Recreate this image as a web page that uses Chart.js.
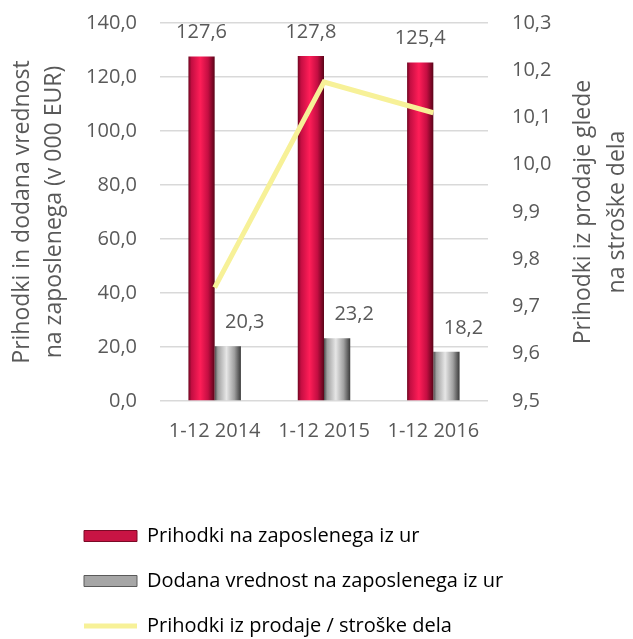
<!DOCTYPE html>
<html>
<head>
<meta charset="utf-8">
<script src="https://cdn.jsdelivr.net/npm/chart.js@4"></script>
<style>
  html, body { margin: 0; padding: 0; background: #fff; }
  #wrap { width: 633px; height: 639px; }
</style>
</head>
<body>
<div id="wrap"><canvas id="chart"></canvas></div>
<script>
const categories = ['1-12 2014', '1-12 2015', '1-12 2016'];
const prihodki = [127.6, 127.8, 125.4];
const dodana = [20.3, 23.2, 18.2];
const razmerje = [9.74, 10.175, 10.11];
const leftTitle = ['Prihodki in dodana vrednost', 'na zaposlenega (v 000 EUR)'];
const rightTitle = ['Prihodki iz prodaje glede', 'na stroške dela'];
const legendNames = ['Prihodki na zaposlenega iz ur', 'Dodana vrednost na zaposlenega iz ur', 'Prihodki iz prodaje / stroške dela'];

const FONT = 'Open Sans';
const TEXT = '#595959';
const CAT_PCT = 0.48;

const fmt = (v) => Number(v).toFixed(1).replace('.', ',');

// horizontal gradient across each bar for the "cylinder" look
function barFill(stops) {
    return (ctx) => {
        const x = ctx.chart.scales.x;
        if (!x || ctx.type !== 'data' || !x.width) return stops[2];
        const barW = x.width / categories.length * CAT_PCT / 2;
        const center = x.getPixelForTick(ctx.dataIndex);
        const left = ctx.datasetIndex === 0 ? center - barW : center;
        const g = ctx.chart.ctx.createLinearGradient(left, 0, left + barW, 0);
        g.addColorStop(0, stops[0]);
        g.addColorStop(0.12, stops[1]);
        g.addColorStop(0.45, stops[2]);
        g.addColorStop(0.75, stops[1]);
        g.addColorStop(1, stops[3]);
        return g;
    };
}

// value labels above the bars
const valueLabels = {
    id: 'valueLabels',
    afterDatasetsDraw(chart) {
        const c = chart.ctx;
        c.save();
        c.font = '20px "' + FONT + '"';
        c.fillStyle = TEXT;
        c.textAlign = 'center';
        c.textBaseline = 'middle';
        [0, 1].forEach((di) => {
            const meta = chart.getDatasetMeta(di);
            const shift = di === 1 ? 17 : 0;
            meta.data.forEach((bar, i) => {
                c.fillText(fmt(chart.data.datasets[di].data[i]), bar.x + shift, bar.y - 24);
            });
        });
        c.restore();
    }
};

// right axis title reads bottom-to-top like the left one
const rightAxisTitle = {
    id: 'rightAxisTitle',
    afterDraw(chart) {
        const s = chart.scales.y2;
        const c = chart.ctx;
        const area = chart.chartArea;
        c.save();
        c.font = '23px "' + FONT + '"';
        c.fillStyle = TEXT;
        c.textAlign = 'center';
        c.textBaseline = 'middle';
        c.translate(s.right - 50, (area.top + area.bottom) / 2);
        c.rotate(-Math.PI / 2);
        rightTitle.forEach((t, i) => c.fillText(t, 0, i * 34));
        c.restore();
    }
};

// legend sits left-aligned a bit in from the edge
const legendShift = {
    id: 'legendShift',
    afterLayout(chart) {
        chart.legend.left += 59;
        chart.legend.top += 7;
    }
};

new Chart(document.querySelector('#chart'), {
    type: 'bar',
    data: {
        labels: categories,
        datasets: [
            {
                label: legendNames[0],
                data: prihodki,
                backgroundColor: barFill(['#6e0620', '#c40e42', '#ff1e58', '#5a0418']),
                barPercentage: 1,
                categoryPercentage: CAT_PCT,
                order: 1
            },
            {
                label: legendNames[1],
                data: dodana,
                backgroundColor: barFill(['#4a4a4a', '#a0a0a0', '#e6e6e6', '#3a3a3a']),
                barPercentage: 1,
                categoryPercentage: CAT_PCT,
                order: 1
            },
            {
                type: 'line',
                label: legendNames[2],
                data: razmerje,
                yAxisID: 'y2',
                borderColor: '#f7f198',
                borderWidth: 5,
                pointRadius: 0,
                tension: 0,
                order: 0
            }
        ]
    },
    options: {
        responsive: true,
        maintainAspectRatio: false,
        animation: false,
        layout: { padding: { top: 23, bottom: 0, left: 0, right: 0 } },
        plugins: {
            tooltip: { enabled: false },
            legend: {
                position: 'bottom',
                align: 'start',
                labels: {
                    usePointStyle: true,
                    pointStyleWidth: 53,
                    boxWidth: 53,
                    boxHeight: 11,
                    padding: 25,
                    color: TEXT,
                    font: { family: FONT, size: 20 },
                    generateLabels: () => [
                        { text: legendNames[0], fillStyle: '#c81444', strokeStyle: '#7a0a26', lineWidth: 1, pointStyle: 'rect', datasetIndex: 0 },
                        { text: legendNames[1], fillStyle: '#a6a6a6', strokeStyle: '#5a5a5a', lineWidth: 1, pointStyle: 'rect', datasetIndex: 1 },
                        { text: legendNames[2], fillStyle: '#f7f198', strokeStyle: '#f7f198', lineWidth: 5, pointStyle: 'line', datasetIndex: 2 }
                    ]
                }
            }
        },
        scales: {
            x: {
                grid: { display: false, drawTicks: false },
                border: { display: false },
                ticks: { color: TEXT, font: { family: FONT, size: 20 }, padding: 18 },
                afterFit(scale) {
                    scale.height = 639 - 401 - scale.chart.legend.height;
                }
            },
            y: {
                min: 0,
                max: 140,
                grid: { color: '#d9d9d9', lineWidth: 1.5, drawTicks: true, tickLength: 20, tickColor: 'rgba(0,0,0,0)' },
                border: { display: false },
                ticks: { stepSize: 20, color: TEXT, padding: 3, font: { family: FONT, size: 20 }, callback: fmt },
                title: {
                    display: true,
                    text: leftTitle,
                    color: TEXT,
                    padding: { top: 6, bottom: 0 },
                    font: { family: FONT, size: 23, lineHeight: 1.4 }
                },
                afterFit(scale) { scale.width = 160; }
            },
            y2: {
                position: 'right',
                min: 9.5,
                max: 10.3,
                grid: { display: true, drawOnChartArea: false, drawTicks: true, tickLength: 21, tickColor: 'rgba(0,0,0,0)' },
                border: { display: false },
                ticks: { stepSize: 0.1, color: TEXT, padding: 3, font: { family: FONT, size: 20 }, callback: fmt },
                afterFit(scale) { scale.width = 145; }
            }
        }
    },
    plugins: [valueLabels, rightAxisTitle, legendShift]
});
</script>
</body>
</html>
